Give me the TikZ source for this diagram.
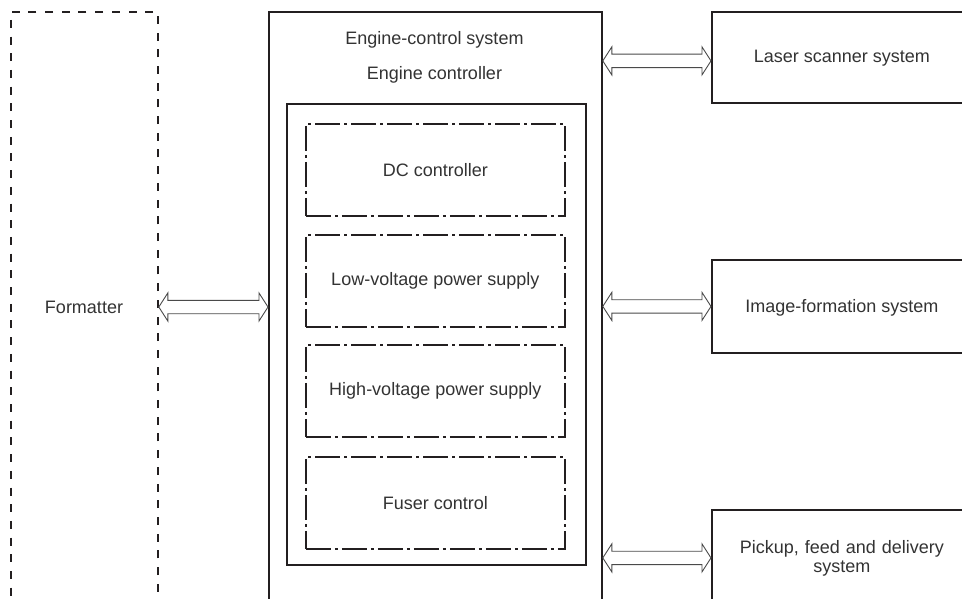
\documentclass[tikz,border=0pt]{standalone}
\usepackage{fontspec}
\setmainfont{Liberation Sans}
\usetikzlibrary{calc}
\definecolor{ink}{HTML}{231F20}
\definecolor{txt}{HTML}{333333}
\definecolor{arr}{HTML}{4A4A4A}
\tikzset{
  solidbox/.style={draw=ink, line width=1.8pt, rectangle, inner sep=0pt, anchor=north west},
  fmtbox/.style={draw=ink, line width=1.8pt, rectangle, inner sep=0pt, anchor=north west, dash pattern=on 8pt off 8.7pt},
  ddbox/.style={draw=ink, line width=1.6pt, rectangle, inner sep=0pt, anchor=north west, dash pattern=on 25pt off 4pt on 3pt off 4pt, minimum width=259pt, minimum height=92pt},
  lbl/.style={text=txt, font=\fontsize{18}{22}\selectfont, align=center, inner sep=0pt},
  arrline/.style={draw=arr, line width=0.9pt, fill=white, line join=miter},
}
\newcommand{\dblarr}[2]{%
  \path[arrline] let \p1=#1, \p2=#2 in
    (\x1,\y1) -- (\x1+9pt,\y1+14pt) -- (\x1+9pt,\y1+6.7pt) -- (\x2-9pt,\y1+6.7pt)
    -- (\x2-9pt,\y1+14pt) -- (\x2,\y1) -- (\x2-9pt,\y1-14pt) -- (\x2-9pt,\y1-6.7pt)
    -- (\x1+9pt,\y1-6.7pt) -- (\x1+9pt,\y1-14pt) -- cycle;}
\begin{document}
\begin{tikzpicture}[x=1pt, y=-1pt]
\useasboundingbox (0,0) rectangle (962,599);
\clip (0,0) rectangle (962,599);
\fill[white] (0,0) rectangle (962,599);

% Formatter
\node[fmtbox, minimum width=147pt, minimum height=700pt] (fmt) at (10,11) {};
\node[lbl] (ftxt) at (84,307) {Formatter};

% Engine-control system
\node[solidbox, minimum width=333pt, minimum height=700pt] (eng) at (268,11) {};
\node[lbl] (engt) at (434.5,40) {Engine-control system};
\node[lbl] (ctlt) at (434.5,75) {Engine controller};
\node[solidbox, minimum width=299pt, minimum height=461pt] (ctl) at (286,103) {};

\node[ddbox] (dc) at (305,123) {};
\node[lbl] at (dc.center) {DC controller};
\node[ddbox] (lv) at (305,234) {};
\node[lbl] at (lv.center) {Low-voltage power supply};
\node[ddbox] (hv) at (305,344) {};
\node[lbl] at (hv.center) {High-voltage power supply};
\node[ddbox] (fu) at (305,456) {};
\node[lbl] at (fu.center) {Fuser control};

% Right-hand systems
\node[solidbox, minimum width=260pt, minimum height=91pt] (laser) at (711,11) {};
\node[lbl] at ($(laser.center)+(0,1)$) {Laser scanner system};
\node[solidbox, minimum width=260pt, minimum height=93pt] (img) at (711,259) {};
\node[lbl] at ($(img.center)+(0,1)$) {Image-formation system};
\node[solidbox, minimum width=260pt, minimum height=96pt] (pick) at (711,509) {};
\node[lbl, text width=250pt, font=\fontsize{18}{19}\selectfont] at (pick.center) {Pickup, feed and delivery\\system};

% Double arrows
\coordinate (a1) at ($(laser.west)+(0,3.5)$);
\dblarr{(fmt.east |- ftxt)}{(eng.west |- ftxt)}
\dblarr{(eng.east |- a1)}{(a1)}
\dblarr{(eng.east |- img.west)}{(img.west)}
\dblarr{(eng.east |- pick.west)}{(pick.west)}
\end{tikzpicture}
\end{document}
